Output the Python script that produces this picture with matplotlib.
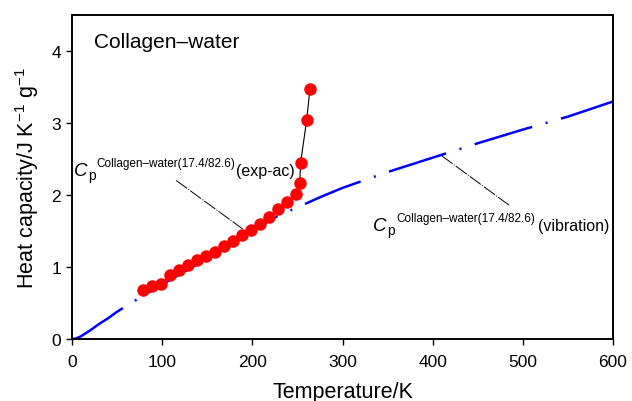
import numpy as np
import matplotlib
matplotlib.use('Agg')
import matplotlib.pyplot as plt

plt.rcParams['font.family'] = ['Liberation Sans', 'DejaVu Sans']
plt.rcParams['mathtext.fontset'] = 'custom'
plt.rcParams['mathtext.rm'] = 'Liberation Sans'
plt.rcParams['mathtext.it'] = 'Liberation Sans:italic'

# experimental (adiabatic calorimetry) heat capacity, collagen-water 17.4/82.6
temp_exp = [78.4, 88.3, 98.7, 109.0, 118.6, 128.6, 138.2, 148.2, 158.2, 168.2,
            178.2, 188.1, 198.4, 208.8, 218.8, 228.7, 238.4, 248.7, 252.5, 253.5,
            260.2, 263.9]
cp_exp = [0.68, 0.74, 0.77, 0.89, 0.96, 1.03, 1.10, 1.15, 1.21, 1.29,
          1.36, 1.44, 1.52, 1.60, 1.70, 1.80, 1.91, 2.01, 2.17, 2.45,
          3.04, 3.48]

# vibrational heat capacity
temp_vib = [0, 5, 10, 20, 30, 40, 50, 60, 80, 100, 125, 150, 175, 200, 225,
            250, 275, 300, 325, 350, 400, 450, 500, 550, 600]
cp_vib = [0.0, 0.01, 0.04, 0.12, 0.21, 0.29, 0.38, 0.46, 0.61, 0.76, 0.94,
          1.12, 1.31, 1.50, 1.69, 1.83, 1.97, 2.10, 2.21, 2.32, 2.52, 2.72,
          2.91, 3.09, 3.30]

x_ticks = [0, 100, 200, 300, 400, 500, 600]
y_ticks = [0, 1, 2, 3, 4]

fig = plt.figure(figsize=(6.32, 4.02), dpi=100)
ax = fig.add_axes([0.114, 0.154, 0.856, 0.806])

ax.plot(temp_vib, cp_vib, color='#0000ff', lw=1.8,
        dashes=[24, 5.6, 0.8, 5.6], zorder=2, clip_on=False)
ax.plot(temp_exp, cp_exp, color='k', lw=0.8, zorder=3)
ax.plot(temp_exp, cp_exp, 'o', color='#ff0000', markersize=9,
        markeredgewidth=0, zorder=4)

# leader lines
ax.plot([115.3, 189.2], [2.205, 1.53], color='k', lw=0.7,
        ls=(0, (14, 1.5, 1, 1.5)), zorder=3)
ax.plot([409.9, 484.8], [2.547, 1.859], color='k', lw=0.7,
        ls=(0, (14, 1.5, 1, 1.5)), zorder=3)

# labels
ax.text(24.4, 4.055, 'Collagen\u2013water', fontsize=15, va='baseline')

ax.text(1.7, 2.284, 'C', fontsize=13.5, style='italic', va='baseline')
ax.text(17.7, 2.228, 'p', fontsize=10, va='baseline')
ax.text(26.6, 2.398, 'Collagen\u2013water(17.4/82.6)', fontsize=8.5,
        va='baseline')
ax.text(181.5, 2.284, '(exp-ac)', fontsize=11.5, va='baseline')

ax.text(334.0, 1.522, 'C', fontsize=13.5, style='italic', va='baseline')
ax.text(350.0, 1.466, 'p', fontsize=10, va='baseline')
ax.text(360.0, 1.636, 'Collagen\u2013water(17.4/82.6)', fontsize=8.5,
        va='baseline')
ax.text(516.3, 1.522, '(vibration)', fontsize=11.5, va='baseline')

ax.set_xlim(0, 600)
ax.set_ylim(0, 4.5)
ax.set_xticks(x_ticks)
ax.set_yticks(y_ticks)
ax.tick_params(direction='out', length=4, width=1, labelsize=12.5,
               top=False, right=False)
ax.tick_params(axis='x', pad=7)
ax.tick_params(axis='y', pad=4)
for s in ax.spines.values():
    s.set_linewidth(1.4)

ax.set_xlabel('Temperature/K', fontsize=15.5)
ax.set_ylabel('Heat capacity/J K$^{\u22121}$ g$^{\u22121}$', fontsize=15.5)
ax.xaxis.set_label_coords(0.5, -0.13)
ax.yaxis.set_label_coords(-0.058, 0.5)

plt.savefig('out.png', dpi=100)
